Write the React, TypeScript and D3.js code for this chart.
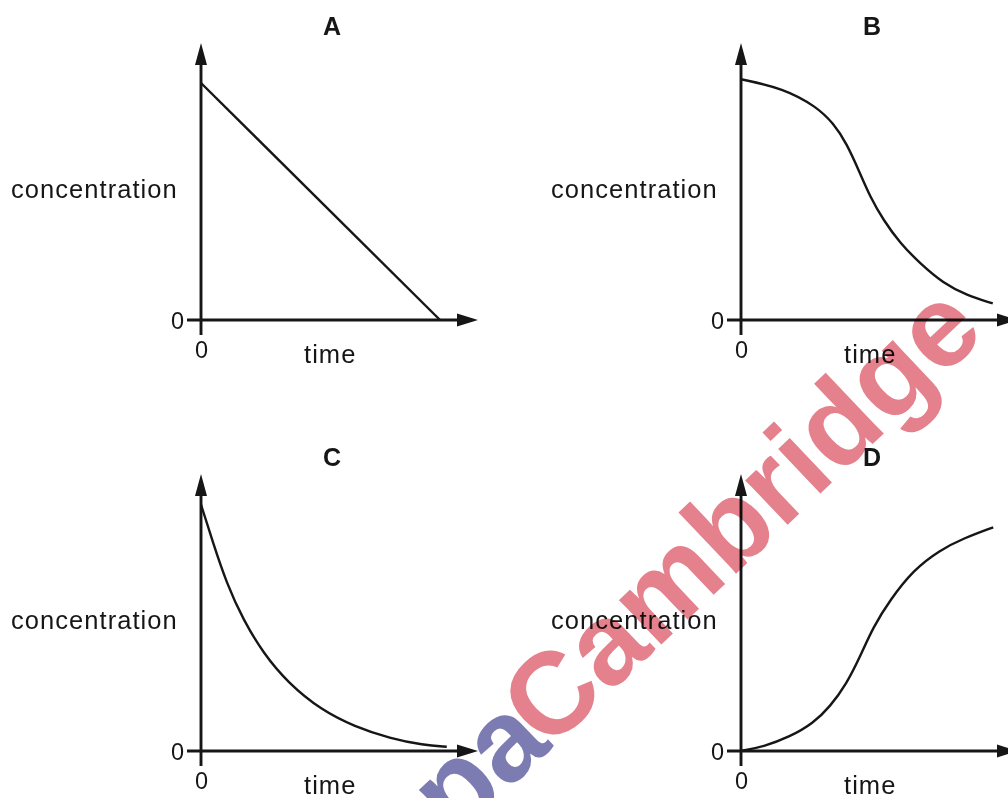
import React from "react";
import * as d3 from "d3";

const panelTitles = ["A", "B", "C", "D"];
const xAxisLabel = "time";
const yAxisLabel = "concentration";
const zeroLabel = "0";

const timeA = [0, 99.6];
const concA = [100, 0];

const timeB = [0, 17.6, 31.5, 38.5, 44, 49.6, 53.8, 59.3, 66.3, 74.6, 84.3, 94, 104.9];
const concB = [101.6, 97.8, 90, 83, 74.6, 61.9, 52, 42.2, 32.4, 23.9, 15.5, 10.5, 7];

const timeC = [0, 5.1, 10.7, 17.6, 26, 36.3, 50.1, 64, 78.8, 92.6, 102.4];
const concC = [104, 87.6, 70.7, 55.3, 41.2, 28.7, 17.3, 10.3, 5.3, 2.5, 1.8];

const timeD = [0, 9.3, 20.4, 30.1, 37.1, 44, 49.6, 55.1, 62.1, 71.8, 82.9, 92.6, 105.1];
const concD = [0, 1.8, 6, 11.7, 18.7, 28.4, 39.8, 52.4, 63.7, 76.4, 84.8, 89.7, 94.4];

const watermarkBlue = "Papa";
const watermarkRed = "Cambridge";

const seriesTimes = [timeA, timeB, timeC, timeD];
const seriesConcs = [concA, concB, concC, concD];
const curveKinds = ["linear", "smooth", "smooth", "smooth"];

const W = 1008;
const H = 798;
const FONT = "'Liberation Sans', Arial, Helvetica, sans-serif";
const INK = "#161616";

function Panel({ idx, ox, oy }: { idx: number; ox: number; oy: number }) {
  const x = d3.scaleLinear().domain([0, 100]).range([201, 441]);
  const y = d3.scaleLinear().domain([0, 100]).range([320, 83]);
  const pts = seriesTimes[idx].map((t, i) => [t, seriesConcs[idx][i]] as [number, number]);
  const line = d3
    .line<[number, number]>()
    .x((d) => x(d[0]))
    .y((d) => y(d[1]))
    .curve(curveKinds[idx] === "linear" ? d3.curveLinear : d3.curveBasis);
  const x0 = x(0);
  const y0 = y(0);
  const yTip = 43;
  const yBase = 65;
  const xTip = 478;
  const xBase = 457;
  return (
    <g transform={`translate(${ox},${oy})`}>
      <text x={332} y={35} textAnchor="middle" fontFamily={FONT} fontWeight="bold" fontSize={25} fill={INK}>
        {panelTitles[idx]}
      </text>
      {/* y axis */}
      <line x1={x0} x2={x0} y1={335} y2={yBase - 2} stroke={INK} strokeWidth={2.9} />
      <path d={`M${x0},${yTip} L${x0 - 6},${yBase} L${x0 + 6},${yBase} Z`} fill={INK} />
      {/* x axis */}
      <line x1={187} x2={xBase + 2} y1={y0} y2={y0} stroke={INK} strokeWidth={2.9} />
      <path d={`M${xTip},${y0} L${xBase},${y0 - 6.5} L${xBase},${y0 + 6.5} Z`} fill={INK} />
      {/* curve */}
      <path d={line(pts) || ""} fill="none" stroke={INK} strokeWidth={2.4} />
      {/* labels */}
      <text x={184} y={328.5} textAnchor="end" fontFamily={FONT} fontSize={23.5} fill={INK}>
        {zeroLabel}
      </text>
      <text x={x0 + 0.5} y={358} textAnchor="middle" fontFamily={FONT} fontSize={23.5} fill={INK}>
        {zeroLabel}
      </text>
      <text x={11} y={198} fontFamily={FONT} fontSize={25.5} letterSpacing={1.05} fill={INK}>
        {yAxisLabel}
      </text>
      <text x={304} y={363} fontFamily={FONT} fontSize={25.5} letterSpacing={1.05} fill={INK}>
        {xAxisLabel}
      </text>
    </g>
  );
}

export default function App() {
  const offsets = [
    [0, 0],
    [540, 0],
    [0, 431],
    [540, 431],
  ];
  const wmX = 548;
  const wmY = 752;
  const wmAngle = -43.5;
  const wmSize = 116;
  return (
    <svg
      width={W}
      height={H}
      viewBox={`0 0 ${W} ${H}`}
      style={{ position: "absolute", left: 0, top: 0, display: "block", background: "#fff" }}
    >
      <rect x={0} y={0} width={W} height={H} fill="#fff" />
      {offsets.map((o, i) => (
        <Panel key={i} idx={i} ox={o[0]} oy={o[1]} />
      ))}
      <g
        transform={`translate(${wmX},${wmY}) rotate(${wmAngle})`}
        style={{ mixBlendMode: "multiply" }}
        fontFamily={FONT}
        fontWeight="bold"
        fontSize={wmSize}
      >
        <text x={8} y={0} textAnchor="end" fill="#6e6eab" opacity={0.9}>
          {watermarkBlue}
        </text>
        <text x={0} y={0} textAnchor="start" fill="#e06b78" opacity={0.85}>
          {watermarkRed}
        </text>
      </g>
    </svg>
  );
}
